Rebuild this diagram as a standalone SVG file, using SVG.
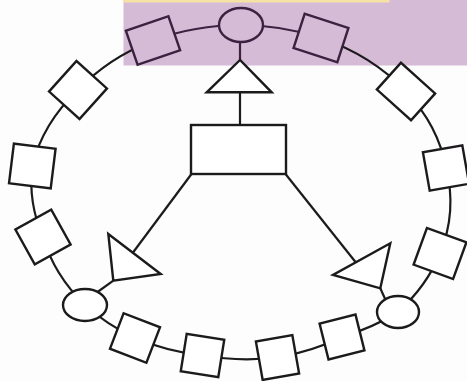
<svg xmlns="http://www.w3.org/2000/svg" width="467" height="381" viewBox="0 0 467 381">
<style>
.s{fill:#fff;stroke:#1c1a1c;stroke-width:2.4}
.p{fill:#d6bbd6;stroke:#3a2240;stroke-width:2.4}
.c{fill:none;stroke:#1c1a1c;stroke-width:2.2}
.cp{fill:none;stroke:#3a2240;stroke-width:2.2}
</style>
<rect x="0" y="0" width="467" height="381" fill="#fdfdfd"/>
<g id="band">
<rect x="123.5" y="0" width="343.5" height="65.5" fill="#d6bbd6"/>
<rect x="123.5" y="0" width="266" height="2.5" fill="#f5e3a6"/>
</g>
<g id="connectors">
<path class="cp" d="M153 40.5 A210 167 0 0 1 241 25"/>
<path class="cp" d="M241 25 A210 167 0 0 1 321 38"/>
<path class="c" d="M321 38 A210 167 0 0 1 406 91.5"/>
<path class="c" d="M406 91.5 A210 167 0 0 1 446 168"/>
<path class="c" d="M446 168 A210 167 0 0 1 440 253.5"/>
<path class="c" d="M440 253.5 A210 167 0 0 1 398 312"/>
<path class="c" d="M398 312 A210 167 0 0 1 342 337"/>
<path class="c" d="M342 337 A210 167 0 0 1 277.5 357.5"/>
<path class="c" d="M277.5 357.5 A210 167 0 0 1 202.5 355.5"/>
<path class="c" d="M202.5 355.5 A210 167 0 0 1 135 338"/>
<path class="c" d="M135 338 A210 167 0 0 1 85 305"/>
<path class="c" d="M85 305 A210 167 0 0 1 43 237"/>
<path class="c" d="M43 237 A210 167 0 0 1 32.3 166"/>
<path class="c" d="M32.3 166 A210 167 0 0 1 78 90"/>
<path class="c" d="M78 90 A210 167 0 0 1 153 40.5"/>
<line class="cp" x1="240" y1="40" x2="240" y2="61"/>
<line class="c" x1="240" y1="92" x2="240" y2="125"/>
<line class="c" x1="191.5" y1="174" x2="133" y2="252.5"/>
<line class="c" x1="285.5" y1="174" x2="355.5" y2="262"/>
<line class="c" x1="113.3" y1="280.7" x2="92" y2="296"/>
<line class="c" x1="380.3" y1="288.3" x2="386" y2="301"/>
</g>
<g id="n-top-ellipse"><ellipse class="p" cx="241" cy="25" rx="22" ry="17"/></g>
<g id="n-top-left"><rect class="p" x="-22.5" y="-18" width="45" height="36" transform="translate(153 40.5) rotate(-19)"/></g>
<g id="n-top-right"><rect class="p" x="-23" y="-18" width="46" height="36" transform="translate(321 38) rotate(18)"/></g>
<g id="n-right-diamond"><rect class="s" x="-23" y="-18" width="46" height="36" transform="translate(406 91.5) rotate(42)"/></g>
<g id="n-right"><rect class="s" x="-20" y="-19.5" width="40" height="39" transform="translate(446 168) rotate(-10)"/></g>
<g id="n-lower-right"><rect class="s" x="-21" y="-19.5" width="42" height="39" transform="translate(440 253.5) rotate(20)"/></g>
<g id="n-right-ellipse"><ellipse class="s" cx="398" cy="312" rx="21" ry="16"/></g>
<g id="n-bottom-a"><rect class="s" x="-18.5" y="-18.5" width="37" height="37" transform="translate(342 337) rotate(-14)"/></g>
<g id="n-bottom-b"><rect class="s" x="-18.5" y="-19.5" width="37" height="39" transform="translate(277.5 357.5) rotate(-10)"/></g>
<g id="n-bottom-d"><rect class="s" x="-19" y="-19" width="38" height="38" transform="translate(202.5 355.5) rotate(9)"/></g>
<g id="n-bottom-c"><rect class="s" x="-19.5" y="-19" width="39" height="38" transform="translate(135 338) rotate(21)"/></g>
<g id="n-left-ellipse"><ellipse class="s" cx="85" cy="305" rx="22" ry="16"/></g>
<g id="n-lower-left"><rect class="s" x="-20.5" y="-20" width="41" height="40" transform="translate(43 237) rotate(-29)"/></g>
<g id="n-left"><rect class="s" x="-21" y="-20" width="42" height="40" transform="translate(32.3 166) rotate(7)"/></g>
<g id="n-left-diamond"><rect class="s" x="-20.5" y="-20.5" width="41" height="41" transform="translate(78 90) rotate(42)"/></g>
<g id="n-top-triangle"><polygon class="s" points="240,60 206.7,92.3 271.7,92.3"/></g>
<g id="n-center-rect"><rect class="s" x="191" y="125" width="95" height="49"/></g>
<g id="n-left-triangle"><polygon class="s" points="108.3,234 160.7,274 113.3,280.7"/></g>
<g id="n-right-triangle"><polygon class="s" points="390.3,243.3 380.3,288.3 333,275"/></g>
</svg>
